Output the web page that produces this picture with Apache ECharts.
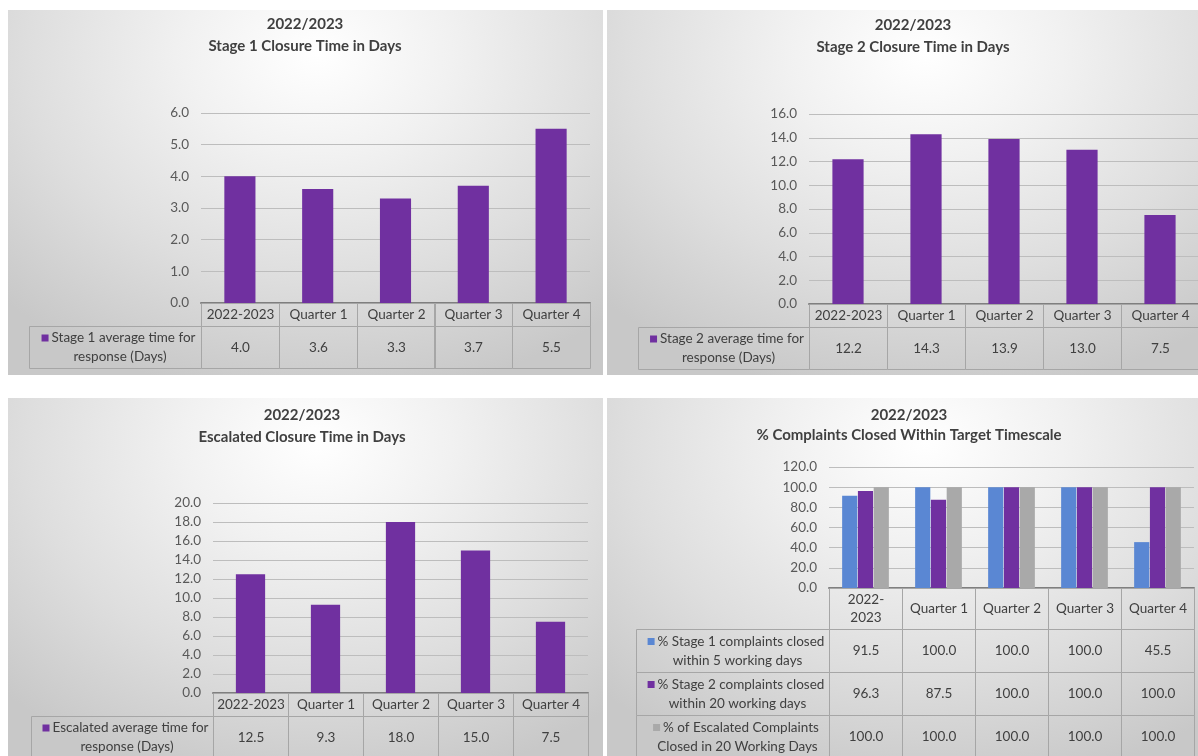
<!DOCTYPE html>
<html>
<head>
<meta charset="utf-8">
<title>Complaints 2022/2023</title>
<script src="https://cdn.jsdelivr.net/npm/echarts@6/dist/echarts.min.js"></script>
<style>
  html, body { margin: 0; padding: 0; background: #fff; }
  body { position: relative; width: 1198px; height: 756px; overflow: hidden; }
  .panel {
    position: absolute;
    background: radial-gradient(ellipse 75% 95% at 52% 12%, #ffffff 0%, #f1f1f1 30%, #dedede 65%, #c8c8c8 100%);
  }
</style>
</head>
<body>
<div id="c1" class="panel" style="left:8px;top:10px;width:595px;height:365px"></div>
<div id="c2" class="panel" style="left:607px;top:10px;width:612px;height:365px"></div>
<div id="c3" class="panel" style="left:8px;top:398px;width:595px;height:370px"></div>
<div id="c4" class="panel" style="left:607px;top:398px;width:612px;height:370px"></div>
<script>
// ---- data ----
const categories = ['2022-2023', 'Quarter 1', 'Quarter 2', 'Quarter 3', 'Quarter 4']
const categoriesWrapped = ['2022-\n2023', 'Quarter 1', 'Quarter 2', 'Quarter 3', 'Quarter 4']

const stage1Days = [4.0, 3.6, 3.3, 3.7, 5.5]
const stage2Days = [12.2, 14.3, 13.9, 13.0, 7.5]
const escalatedDays = [12.5, 9.3, 18.0, 15.0, 7.5]

const stage1Pct = [91.5, 100.0, 100.0, 100.0, 45.5]
const stage2Pct = [96.3, 87.5, 100.0, 100.0, 100.0]
const escalatedPct = [100.0, 100.0, 100.0, 100.0, 100.0]

const PURPLE = '#7030A0'
const BLUE = '#5A87D3'
const GREY = '#A9A9A9'
const FONT = 'Lato, "Open Sans", sans-serif'
const TEXT = '#404040'
const LINE = '#A6A6A6'

function makePanel(id, cfg) {
  const chart = echarts.init(document.getElementById(id), null, { renderer: 'canvas' })
  const L = cfg.layout
  const tableH = L.headerH + L.rowH * cfg.series.length

  // table cells: header row, then one row per series (legend cell + values)
  const cells = []
  cfg.headers.forEach((h, i) => cells.push({ col: i, y0: 0, y1: L.headerH, text: h }))
  cfg.series.forEach((s, r) => {
    const y0 = L.headerH + r * L.rowH
    const y1 = y0 + L.rowH
    cells.push({ col: -1, y0, y1, legend: s })
    s.data.forEach((v, i) => cells.push({ col: i, y0, y1, text: v.toFixed(1) }))
  })

  const bars = cfg.series.map(s => ({
    type: 'bar',
    name: s.label.join(' '),
    xAxisIndex: 0,
    yAxisIndex: 0,
    data: s.data,
    itemStyle: { color: s.color },
    barWidth: cfg.barWidth,
    barGap: cfg.barGap,
    barCategoryGap: cfg.barCategoryGap,
    silent: true
  }))

  chart.setOption({
    animation: false,
    backgroundColor: 'transparent',
    textStyle: { fontFamily: FONT },
    title: {
      text: cfg.title,
      left: L.titleX,
      top: L.titleTop,
      padding: 0,
      textAlign: 'center',
      textStyle: {
        fontFamily: FONT,
        fontSize: 15,
        fontWeight: 'bold',
        color: TEXT,
        lineHeight: L.titleLine
      }
    },
    grid: [
      { left: L.left, top: L.top, width: L.width, height: L.height, outerBoundsMode: 'none' },
      { left: L.left, top: L.top + L.height, width: L.width, height: tableH, outerBoundsMode: 'none' }
    ],
    xAxis: [
      {
        type: 'category',
        gridIndex: 0,
        data: cfg.headers,
        axisLine: { lineStyle: { color: '#7F7F7F', width: 2 } },
        axisTick: { show: false },
        axisLabel: { show: false }
      },
      { type: 'category', gridIndex: 1, data: cfg.headers, show: false }
    ],
    yAxis: [
      {
        type: 'value',
        gridIndex: 0,
        min: 0,
        max: cfg.yMax,
        interval: cfg.yStep,
        axisLine: { show: false },
        axisTick: { show: false },
        axisLabel: {
          margin: 12,
          color: '#595959',
          fontSize: 13.5,
          fontFamily: FONT,
          formatter: v => v.toFixed(1)
        },
        splitLine: { lineStyle: { color: '#BDBDBD' } }
      },
      { type: 'value', gridIndex: 1, min: 0, max: tableH, inverse: true, show: false }
    ],
    series: bars.concat([{
      type: 'custom',
      xAxisIndex: 1,
      yAxisIndex: 1,
      silent: true,
      data: cells.map(c => [Math.max(c.col, 0), c.y0, c.y1]),
      renderItem(params, api) {
        const c = cells[params.dataIndex]
        const cs = params.coordSys
        const top = Math.round(api.coord([0, c.y0])[1]) + 0.5
        const bottom = Math.round(api.coord([0, c.y1])[1]) + 0.5
        let x, w
        if (c.col < 0) {
          x = cs.x - L.legendW
          w = L.legendW
        } else {
          w = cs.width / cfg.headers.length
          x = cs.x + w * c.col
        }
        x = Math.round(x) + 0.5
        w = Math.round(w)
        const textStyle = {
          x: x + w / 2,
          y: (top + bottom) / 2,
          align: 'center',
          verticalAlign: 'middle',
          fill: TEXT,
          fontFamily: FONT,
          fontSize: 13.5,
          lineHeight: 18
        }
        if (c.legend) {
          textStyle.text = '{m|}{t|' + c.legend.label[0] + '}\n{t|' + c.legend.label[1] + '}'
          textStyle.x = x + w / 2 + 3
          textStyle.rich = {
            m: { width: 7, height: 7, backgroundColor: c.legend.color, padding: 0 },
            t: { fontFamily: FONT, fontSize: 13.5, fill: TEXT, lineHeight: 19, padding: [0, 0, 0, 3] }
          }
        } else {
          textStyle.text = c.text
        }
        return {
          type: 'group',
          children: [
            {
              type: 'rect',
              shape: { x, y: top, width: w, height: bottom - top },
              style: { fill: 'none', stroke: LINE, lineWidth: 1 }
            },
            { type: 'text', style: textStyle }
          ]
        }
      }
    }])
  })
  return chart
}

makePanel('c1', {
  title: '2022/2023\nStage 1 Closure Time in Days',
  headers: categories,
  yMax: 6, yStep: 1,
  barWidth: '40%',
  series: [{ label: ['Stage 1 average time for', 'response (Days)'], color: PURPLE, data: stage1Days }],
  layout: { titleX: 297, titleTop: 3, titleLine: 22, left: 193, top: 103, width: 389, height: 190, headerH: 23, rowH: 42, legendW: 172 }
})

makePanel('c2', {
  title: '2022/2023\nStage 2 Closure Time in Days',
  headers: categories,
  yMax: 16, yStep: 2,
  barWidth: '40%',
  series: [{ label: ['Stage 2 average time for', 'response (Days)'], color: PURPLE, data: stage2Days }],
  layout: { titleX: 306, titleTop: 4, titleLine: 22, left: 202, top: 104, width: 390, height: 190, headerH: 23, rowH: 42, legendW: 171 }
})

makePanel('c3', {
  title: '2022/2023\nEscalated Closure Time in Days',
  headers: categories,
  yMax: 20, yStep: 2,
  barWidth: '39%',
  series: [{ label: ['Escalated average time for', 'response (Days)'], color: PURPLE, data: escalatedDays }],
  layout: { titleX: 294, titleTop: 6, titleLine: 22, left: 205, top: 105, width: 375, height: 190, headerH: 23, rowH: 42, legendW: 182 }
})

makePanel('c4', {
  title: '2022/2023\n% Complaints Closed Within Target Timescale',
  headers: categoriesWrapped,
  yMax: 120, yStep: 20,
  barGap: '4%',
  barCategoryGap: '36%',
  series: [
    { label: ['% Stage 1 complaints closed', 'within 5 working days'], color: BLUE, data: stage1Pct },
    { label: ['% Stage 2 complaints closed', 'within 20 working days'], color: PURPLE, data: stage2Pct },
    { label: ['% of Escalated Complaints', 'Closed in 20 Working Days'], color: GREY, data: escalatedPct }
  ],
  layout: { titleX: 302, titleTop: 7, titleLine: 20, left: 222, top: 69, width: 365, height: 121, headerH: 41, rowH: 43, legendW: 193 }
})
</script>
</body>
</html>
